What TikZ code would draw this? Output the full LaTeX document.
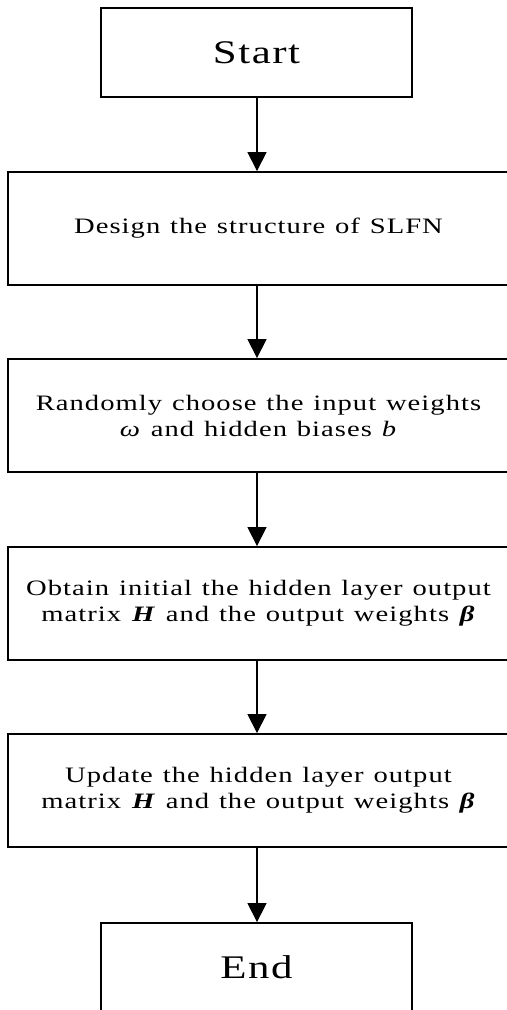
\documentclass[tikz,border=0pt]{standalone}
\usepackage{fontspec}
\setmainfont{Liberation Serif}[FakeStretch=1.3, LetterSpace=4.7, WordSpace=1.2]
\usetikzlibrary{arrows.meta}
\tikzset{
  termbox/.style={draw, line width=1.8bp, minimum width=311bp, minimum height=89bp, inner sep=0pt, font=\fontsize{33bp}{38bp}\selectfont},
  procbox/.style={draw, line width=1.8bp, minimum width=501bp, minimum height=113bp, inner sep=0pt, align=center, font=\fontsize{22bp}{26bp}\selectfont},
  flow/.style={line width=1.2bp, -{Triangle[length=19bp, width=19bp]}}
}
\begin{document}
\begin{tikzpicture}[x=1bp, y=-1bp]
\useasboundingbox (0,0) rectangle (507,1010);
\clip (0,0) rectangle (507,1010);
\node[termbox] (start) at (256.5,52.5) {Start};
\node[procbox] (design) at (258.5,228.5) {Design the structure of SLFN};
\node[procbox] (random) at (258.5,415.5) {Randomly choose the input weights\\\textit{ω} and hidden biases \textit{b}};
\node[procbox] (obtain) at (258.5,603.5) {Obtain initial the hidden layer output\\matrix \textbf{\textit{H}} and the output weights \textbf{\textit{β}}};
\node[procbox] (update) at (258.5,790.5) {Update the hidden layer output\\matrix \textbf{\textit{H}} and the output weights \textbf{\textit{β}}};
\node[termbox] (end) at (256.5,967.5) {End};
\draw[flow] (start.south -| 257,0) -- (design.north -| 257,0);
\draw[flow] (design.south -| 257,0) -- (random.north -| 257,0);
\draw[flow] (random.south -| 257,0) -- (obtain.north -| 257,0);
\draw[flow] (obtain.south -| 257,0) -- (update.north -| 257,0);
\draw[flow] (update.south -| 257,0) -- (end.north -| 257,0);
\end{tikzpicture}
\end{document}
